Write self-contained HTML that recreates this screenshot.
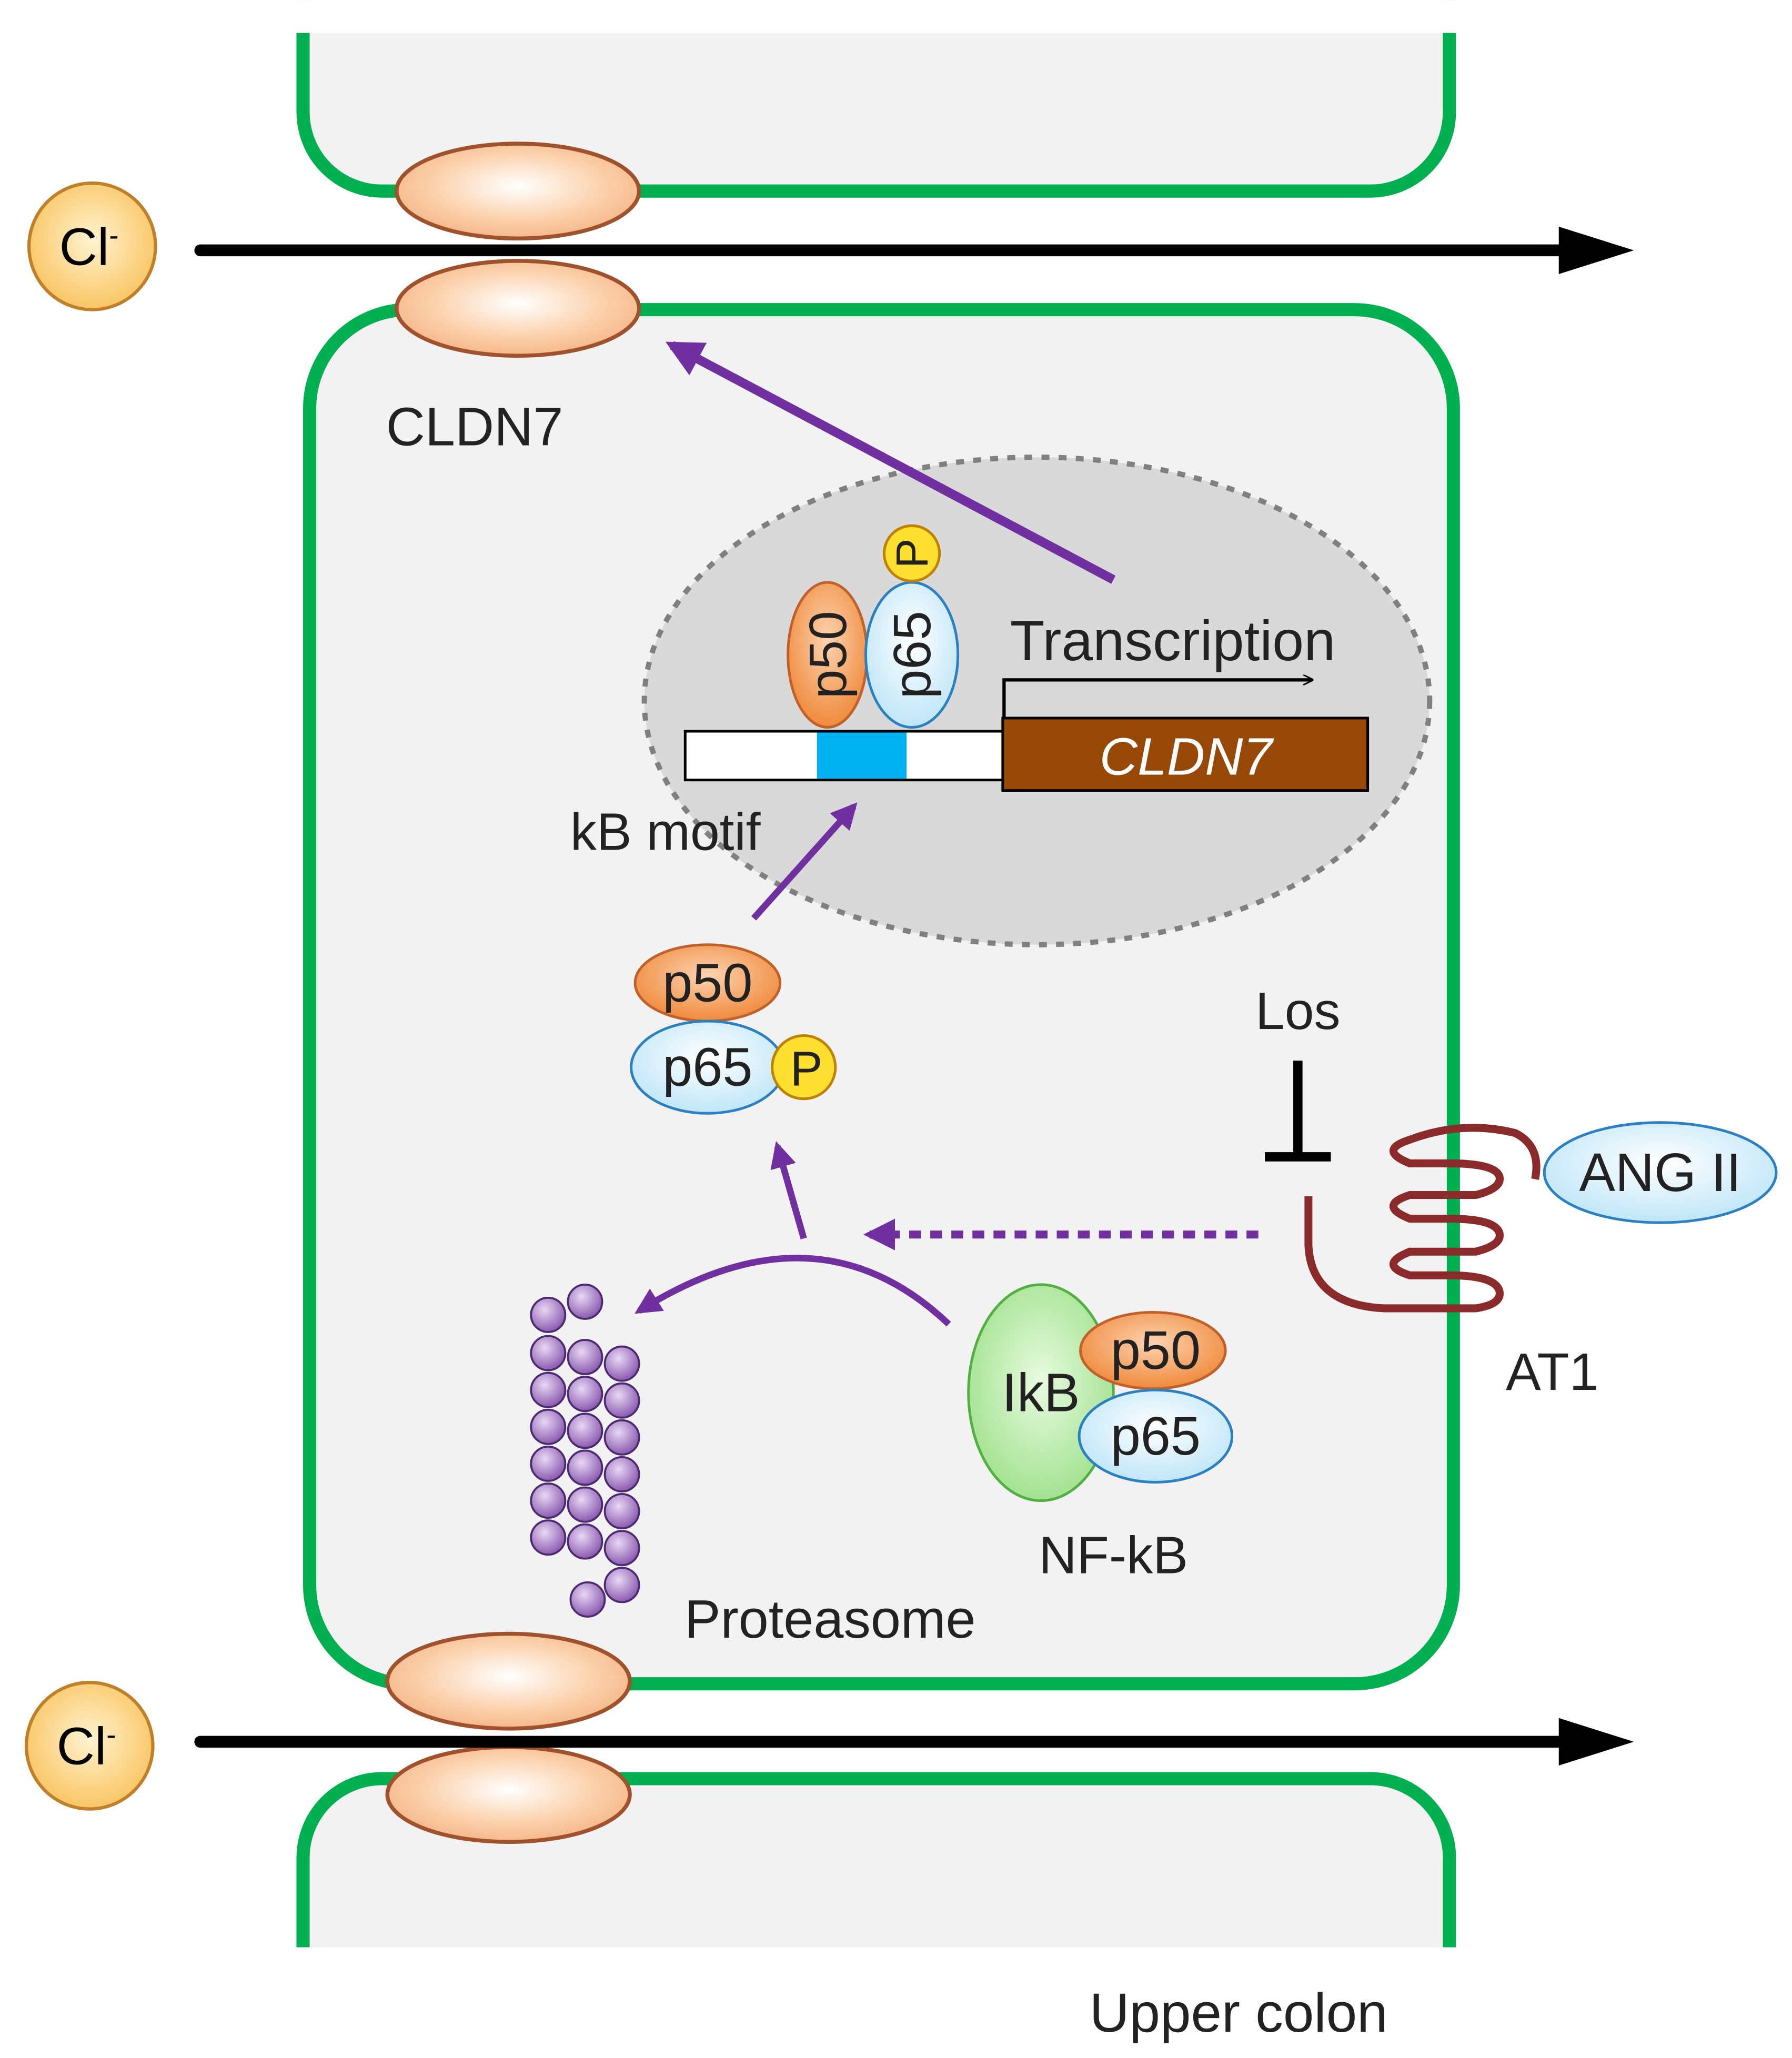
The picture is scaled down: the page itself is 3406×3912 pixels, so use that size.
<!DOCTYPE html>
<html><head><meta charset="utf-8"><style>html,body{margin:0;padding:0;background:#fff}svg{display:block}text{font-family:"Liberation Sans",sans-serif}</style></head><body>
<svg width="3406" height="3912" viewBox="0 0 1360 1562" xmlns="http://www.w3.org/2000/svg">
<defs>
<radialGradient id="og" cx="50%" cy="45%" r="60%"><stop offset="0" stop-color="#fff"/><stop offset="0.6" stop-color="#fbd0aa"/><stop offset="1" stop-color="#f4b183"/></radialGradient>
<radialGradient id="cl" cx="50%" cy="45%" r="60%"><stop offset="0" stop-color="#fff3d0"/><stop offset="1" stop-color="#f9c15a"/></radialGradient>
<radialGradient id="or" cx="50%" cy="40%" r="60%"><stop offset="0" stop-color="#fcd3b0"/><stop offset="1" stop-color="#f08a3c"/></radialGradient>
<radialGradient id="bl" cx="50%" cy="40%" r="60%"><stop offset="0" stop-color="#fff"/><stop offset="1" stop-color="#bfe6f8"/></radialGradient>
<radialGradient id="gr" cx="50%" cy="45%" r="60%"><stop offset="0" stop-color="#e8fbe0"/><stop offset="1" stop-color="#9de08a"/></radialGradient>
<radialGradient id="pu" cx="40%" cy="35%" r="65%"><stop offset="0" stop-color="#e8d8f4"/><stop offset="1" stop-color="#8b5bb0"/></radialGradient>
<marker id="ap" viewBox="0 0 10 10" refX="8" refY="5" markerWidth="4" markerHeight="4" orient="auto"><path d="M0,0L10,5L0,10z" fill="#7030a0"/></marker>
<marker id="ak" viewBox="0 0 10 10" refX="9" refY="5" markerWidth="8" markerHeight="8" orient="auto" markerUnits="userSpaceOnUse"><path d="M0,0L10,5L0,10" fill="none" stroke="#000" stroke-width="1.5"/></marker>
</defs>
<path d="M230,0 V85 A60,60 0 0 0 290,145 H1040 A60,60 0 0 0 1100,85 V0" fill="#f2f2f2" stroke="#00b050" stroke-width="10"/>
<rect x="0" y="0" width="1360" height="25" fill="#fff"/>
<rect x="235" y="235" width="868" height="1043" rx="75" fill="#f2f2f2" stroke="#00b050" stroke-width="10"/>
<path d="M230,1478 V1410 A60,60 0 0 1 290,1350 H1040 A60,60 0 0 1 1100,1410 V1478" fill="#f2f2f2" stroke="#00b050" stroke-width="10"/>
<rect x="0" y="1478" width="1360" height="84" fill="#fff"/>
<g fill="url(#og)" stroke="#a0522d" stroke-width="3">
<ellipse cx="393" cy="145" rx="92" ry="36"/><ellipse cx="393" cy="234" rx="92" ry="36"/>
<ellipse cx="386" cy="1276" rx="92" ry="36"/><ellipse cx="386" cy="1362" rx="92" ry="36"/></g>
<g fill="url(#cl)" stroke="#c0802a" stroke-width="2.5"><circle cx="70" cy="187" r="48"/><circle cx="68" cy="1325" r="48"/></g>
<text x="45" y="201" font-size="40">Cl<tspan dy="-15" font-size="22">-</tspan></text>
<text x="43" y="1339" font-size="40">Cl<tspan dy="-15" font-size="22">-</tspan></text>
<g stroke="#000" stroke-width="9" stroke-linecap="round"><line x1="152" y1="190" x2="1190" y2="190"/><line x1="152" y1="1322" x2="1190" y2="1322"/></g>
<path d="M1183,172 L1240,190 L1183,208z"/><path d="M1183,1304 L1240,1322 L1183,1340z"/>
<text x="293" y="338" font-size="41" fill="#222">CLDN7</text>
<ellipse cx="787" cy="532" rx="298" ry="185" fill="#d9d9d9" stroke="#808080" stroke-width="4" stroke-dasharray="6,7"/>
<line x1="845" y1="440" x2="510" y2="262" stroke="#7030a0" stroke-width="7" marker-end="url(#ap)"/>
<rect x="520" y="555" width="242" height="37" fill="#fff" stroke="#000" stroke-width="2"/>
<rect x="620" y="556" width="68" height="35" fill="#00b0f0"/>
<rect x="761" y="545" width="277" height="55" fill="#974806" stroke="#000" stroke-width="2"/>
<text x="900" y="588" font-size="40" fill="#fff" font-style="italic" text-anchor="middle">CLDN7</text>
<text x="890" y="501" font-size="43" fill="#222" text-anchor="middle">Transcription</text>
<path d="M762,545 V516 H996" fill="none" stroke="#000" stroke-width="2.5" marker-end="url(#ak)"/>
<ellipse cx="628" cy="497" rx="30" ry="55" fill="url(#or)" stroke="#c0602a" stroke-width="2"/>
<ellipse cx="692" cy="497" rx="35" ry="55" fill="url(#bl)" stroke="#2a80c0" stroke-width="2"/>
<circle cx="692" cy="420" r="21" fill="#ffe030" stroke="#c08000" stroke-width="2"/>
<text transform="translate(642,497) rotate(-90)" font-size="40" text-anchor="middle" fill="#222">p50</text>
<text transform="translate(706,497) rotate(-90)" font-size="40" text-anchor="middle" fill="#222">p65</text>
<text transform="translate(704,420) rotate(-90)" font-size="34" text-anchor="middle" fill="#222">P</text>
<text x="505" y="645" font-size="40" text-anchor="middle" fill="#222">kB motif</text>
<line x1="572" y1="697" x2="648" y2="612" stroke="#7030a0" stroke-width="5" marker-end="url(#ap)"/>
<ellipse cx="537" cy="746" rx="55" ry="29" fill="url(#or)" stroke="#c0602a" stroke-width="2"/>
<ellipse cx="537" cy="810" rx="58" ry="35" fill="url(#bl)" stroke="#2a80c0" stroke-width="2"/>
<circle cx="610" cy="810" r="24" fill="#ffe030" stroke="#c08000" stroke-width="2"/>
<text x="537" y="760" font-size="41" text-anchor="middle" fill="#222">p50</text>
<text x="537" y="824" font-size="41" text-anchor="middle" fill="#222">p65</text>
<text x="612" y="824" font-size="37" text-anchor="middle" fill="#222">P</text>
<line x1="610" y1="940" x2="590" y2="870" stroke="#7030a0" stroke-width="5" marker-end="url(#ap)"/>
<path d="M720,1005 Q620,910 485,995" fill="none" stroke="#7030a0" stroke-width="5" marker-end="url(#ap)"/>
<line x1="955" y1="937" x2="660" y2="937" stroke="#7030a0" stroke-width="6" stroke-dasharray="9,7" marker-end="url(#ap)"/>
<text x="985" y="781" font-size="40" text-anchor="middle" fill="#222">Los</text>
<line x1="985" y1="805" x2="985" y2="878" stroke="#000" stroke-width="7"/>
<line x1="960" y1="878" x2="1010" y2="878" stroke="#000" stroke-width="7"/>
<path d="M993,908 V945 Q995,990 1050,993 H1120 Q1140,990 1138,980 Q1135,968 1100,968 H1070 Q1045,960 1070,950 H1120 Q1140,945 1138,936 Q1135,925 1100,925 H1070 Q1045,915 1070,907 H1120 Q1140,902 1138,893 Q1135,883 1100,883 H1070 Q1045,873 1070,865 Q1110,850 1150,860 Q1170,870 1165,895" fill="none" stroke="#8b2a2a" stroke-width="6"/>
<ellipse cx="1260" cy="890" rx="88" ry="38" fill="url(#bl)" stroke="#2a80c0" stroke-width="2"/>
<text x="1260" y="904" font-size="41" text-anchor="middle" fill="#222">ANG II</text>
<text x="1178" y="1055" font-size="40" text-anchor="middle" fill="#222">AT1</text>
<ellipse cx="790" cy="1057" rx="55" ry="82" fill="url(#gr)" stroke="#50b040" stroke-width="2"/>
<ellipse cx="875" cy="1025" rx="55" ry="29" fill="url(#or)" stroke="#c0602a" stroke-width="2"/>
<ellipse cx="877" cy="1090" rx="58" ry="35" fill="url(#bl)" stroke="#2a80c0" stroke-width="2"/>
<text x="790" y="1071" font-size="41" text-anchor="middle" fill="#222">IkB</text>
<text x="877" y="1039" font-size="41" text-anchor="middle" fill="#222">p50</text>
<text x="877" y="1104" font-size="41" text-anchor="middle" fill="#222">p65</text>
<text x="845" y="1194" font-size="40" text-anchor="middle" fill="#222">NF-kB</text>
<g fill="url(#pu)" stroke="#4b2a70" stroke-width="1.5">
<circle cx="416" cy="998" r="13"/><circle cx="444" cy="988" r="13"/>
<circle cx="416" cy="1027" r="13"/><circle cx="444" cy="1030" r="13"/><circle cx="472" cy="1035" r="13"/>
<circle cx="416" cy="1055" r="13"/><circle cx="444" cy="1058" r="13"/><circle cx="472" cy="1063" r="13"/>
<circle cx="416" cy="1083" r="13"/><circle cx="444" cy="1086" r="13"/><circle cx="472" cy="1091" r="13"/>
<circle cx="416" cy="1111" r="13"/><circle cx="444" cy="1114" r="13"/><circle cx="472" cy="1119" r="13"/>
<circle cx="416" cy="1139" r="13"/><circle cx="444" cy="1142" r="13"/><circle cx="472" cy="1147" r="13"/>
<circle cx="416" cy="1167" r="13"/><circle cx="444" cy="1170" r="13"/><circle cx="472" cy="1175" r="13"/>
<circle cx="472" cy="1203" r="13"/><circle cx="446" cy="1214" r="13"/></g>
<text x="630" y="1243" font-size="41" text-anchor="middle" fill="#222">Proteasome</text>
<text x="940" y="1542" font-size="42" text-anchor="middle" fill="#222">Upper colon</text>
</svg>
</body></html>
